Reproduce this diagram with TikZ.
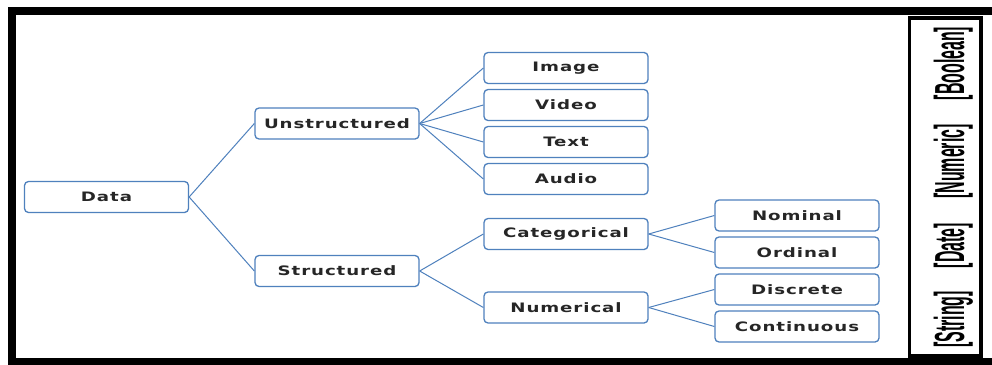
\documentclass[tikz,border=0pt]{standalone}
\usepackage{fontspec}
\newfontfamily\boxfont[FakeStretch=1.4,LetterSpace=7]{DejaVu Sans Bold}
\newfontfamily\tagfont[FakeStretch=0.38]{Liberation Sans Bold}
\definecolor{boxblue}{RGB}{79,129,189}
\begin{document}
\begin{tikzpicture}[x=1pt,y=-1pt,
  box/.style={draw=boxblue,line width=1.3pt,rounded corners=4pt,fill=white,
    minimum width=164pt,minimum height=31pt,inner sep=0pt,
    font=\boxfont\fontsize{13}{15}\selectfont,text=black!85},
  link/.style={draw=boxblue,line width=1pt},
  tag/.style={rotate=90,anchor=base,inner sep=0pt,
    font=\tagfont\fontsize{42}{44}\selectfont,text=black}]
\useasboundingbox (0,0) rectangle (992,364);
\clip (0,0) rectangle (992,364);
\fill[white] (0,0) rectangle (992,364);
% outer frame
\draw[line width=8pt] (1010,11) -- (12,11) -- (12,362) -- (1010,362);
% inner legend box
\draw[line width=3.5pt] (909.5,18) rectangle (981,356);
% nodes
\node[box] (data) at (106.5,197) {Data};
\node[box] (unst) at (337,123.5) {Unstructured};
\node[box] (st) at (337,271) {Structured};
\node[box] (img) at (566,68) {Image};
\node[box] (vid) at (566,105) {Video};
\node[box] (txt) at (566,142) {Text};
\node[box] (aud) at (566,179) {Audio};
\node[box] (cat) at (566,234) {Categorical};
\node[box] (num) at (566,307.5) {Numerical};
\node[box] (nom) at (797,215.5) {Nominal};
\node[box] (ord) at (797,252.5) {Ordinal};
\node[box] (dis) at (797,289.5) {Discrete};
\node[box] (con) at (797,326.5) {Continuous};
% connectors
\draw[link] (data.east) -- (unst.west);
\draw[link] (data.east) -- (st.west);
\foreach \c in {img,vid,txt,aud} \draw[link] (unst.east) -- (\c.west);
\draw[link] (st.east) -- (cat.west);
\draw[link] (st.east) -- (num.west);
\draw[link] (cat.east) -- (nom.west);
\draw[link] (cat.east) -- (ord.west);
\draw[link] (num.east) -- (dis.west);
\draw[link] (num.east) -- (con.west);
% legend words
\node[tag] (tb) at (964,63.5) {[Boolean]};
\node[tag] (tn) at (964,161.5) {[Numeric]};
\node[tag] (td) at (964,245.5) {[Date]};
\node[tag] (ts) at (964,319.5) {[String]};
\end{tikzpicture}
\end{document}
